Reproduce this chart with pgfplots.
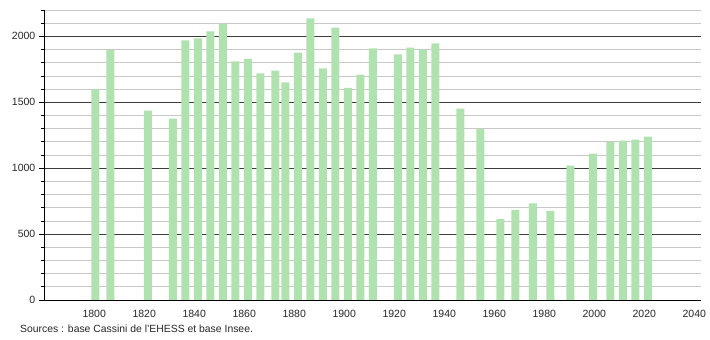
\documentclass[border=0pt]{standalone}
\usepackage{fontspec}
\setmainfont{Liberation Sans}
\usepackage{pgfplots}
\pgfplotsset{compat=1.18}
\definecolor{barg}{RGB}{176,226,176}
\definecolor{majg}{RGB}{60,60,60}
\definecolor{ming}{RGB}{200,200,200}
\begin{document}
\fontsize{10.5}{12}\selectfont
\begin{tikzpicture}[x=1pt,y=1pt]
\path[use as bounding box] (0,0) rectangle (710,340);
\begin{axis}[
  at={(44pt,40pt)}, anchor=south west,
  scale only axis, width=657pt, height=290pt,
  xmin=1779.5, xmax=2042.3, ymin=0, ymax=2200,
  axis x line=bottom, axis y line=left,
  axis line style={-, black, line width=0.9pt},
  xtick={1800,1820,...,2040},
  xticklabels={1800,1820,1840,1860,1880,1900,1920,1940,1960,1980,2000,2020,2040},
  ytick={0,500,1000,1500,2000},
  minor ytick={100,200,...,2200},
  tick align=outside,
  x tick style={draw=none},
  y tick style={black, line width=0.8pt},
  major tick length=5pt, minor tick length=3pt,
  ymajorgrids, yminorgrids,
  major grid style={majg, line width=0.8pt},
  minor grid style={ming, line width=0.8pt},
  /pgf/number format/1000 sep={},
  /pgf/number format/assume math mode=true,
  ticklabel style={font=\fontsize{10.5}{12}\selectfont, text=black!85},
  xticklabel style={yshift=-1pt, xshift=-1pt},
  clip=false,
]
\addplot[ybar, bar width=8pt, fill=barg, draw=none] coordinates {
(1800,1597) (1806,1896) (1821,1437) (1831,1376) (1836,1970) (1841,1985)
(1846,2038) (1851,2099) (1856,1810) (1861,1830) (1866,1719) (1872,1741)
(1876,1650) (1881,1876) (1886,2137) (1891,1757) (1896,2066) (1901,1610)
(1906,1709) (1911,1909) (1921,1863) (1926,1914) (1931,1899) (1936,1947)
(1946,1452) (1954,1298) (1962,614) (1968,684) (1975,733) (1982,677)
(1990,1019) (1999,1110) (2006,1199) (2011,1209) (2016,1217) (2021,1240)
};
\end{axis}
\node[anchor=base west, inner sep=0pt, text=black!85] at (20,7) {\fontsize{10.4}{12}\selectfont Sources : base Cassini de l'EHESS et base Insee.};
\end{tikzpicture}
\end{document}
